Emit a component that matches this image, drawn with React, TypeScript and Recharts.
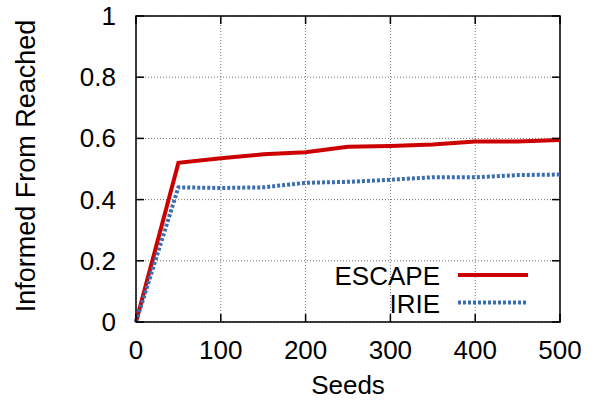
import React from 'react';
import { LineChart, Line, XAxis, YAxis, CartesianGrid, Label, ReferenceArea } from 'recharts';

const seeds = [0, 50, 100, 150, 200, 250, 300, 350, 400, 450, 500];
const escape = [0, 0.52, 0.535, 0.548, 0.555, 0.573, 0.575, 0.58, 0.59, 0.59, 0.595];
const irie = [0, 0.44, 0.438, 0.44, 0.455, 0.458, 0.465, 0.473, 0.473, 0.48, 0.482];
const xTicks = [0, 100, 200, 300, 400, 500];
const yTicks = [0, 0.2, 0.4, 0.6, 0.8, 1];
const seriesNames = ['ESCAPE', 'IRIE'];

const data = seeds.map((s, i) => ({ seeds: s, escape: escape[i], irie: irie[i] }));

const W = 595;
const H = 403;
const PLOT_LEFT = 136;
const PLOT_RIGHT = 560;
const PLOT_TOP = 16;
const PLOT_BOTTOM = 322;
const FONT = 'Liberation Sans, Arial, sans-serif';
const RED = '#cc0000';
const BLUE = '#3a6eaf';

const XTick = (props: any) => {
  const { x, y, payload } = props;
  return (
    <g>
      <line x1={x} x2={x} y1={PLOT_BOTTOM} y2={PLOT_BOTTOM - 8} stroke="#000" strokeWidth={1.5} />
      <line x1={x} x2={x} y1={PLOT_TOP} y2={PLOT_TOP + 8} stroke="#000" strokeWidth={1.5} />
      <text x={x} y={y + 35} textAnchor="middle" fontSize={26} fontFamily={FONT} fill="#000">
        {payload.value}
      </text>
    </g>
  );
};

const YTick = (props: any) => {
  const { x, y, payload } = props;
  return (
    <g>
      <line x1={PLOT_LEFT} x2={PLOT_LEFT + 8} y1={y} y2={y} stroke="#000" strokeWidth={1.5} />
      <line x1={PLOT_RIGHT} x2={PLOT_RIGHT - 8} y1={y} y2={y} stroke="#000" strokeWidth={1.5} />
      <text x={x - 18} y={y + 9} textAnchor="end" fontSize={26} fontFamily={FONT} fill="#000">
        {payload.value}
      </text>
    </g>
  );
};

const legendItems = [
  { name: seriesNames[0], color: RED, width: 4, dash: undefined as string | undefined },
  { name: seriesNames[1], color: BLUE, width: 4, dash: '3 2' },
];

export default function App() {
  return (
    <div style={{ position: 'absolute', left: 0, top: 0, width: W, height: H, background: '#fff' }}>
      <LineChart width={W} height={H} data={data} margin={{ top: PLOT_TOP, right: W - PLOT_RIGHT, left: 0, bottom: 0 }}>
        <CartesianGrid stroke="#777" strokeDasharray="1 2" strokeWidth={1} />
        <XAxis
          dataKey="seeds"
          type="number"
          domain={[0, 500]}
          ticks={xTicks}
          height={H - PLOT_BOTTOM}
          tickLine={false}
          axisLine={false}
          tickSize={0}
          tick={<XTick />}
          interval={0}
        >
          <Label
            content={({ viewBox }: any) => (
              <text x={viewBox.x + viewBox.width / 2} y={viewBox.y + viewBox.height - 9} textAnchor="middle" fontSize={26} fontFamily={FONT} fill="#000">
                Seeds
              </text>
            )}
          />
        </XAxis>
        <YAxis
          type="number"
          domain={[0, 1]}
          ticks={yTicks}
          width={PLOT_LEFT}
          tickLine={false}
          axisLine={false}
          tickSize={0}
          tick={<YTick />}
          interval={0}
        >
          <Label
            content={({ viewBox }: any) => {
              const cx = viewBox.x + 35;
              const cy = 166;
              return (
                <text x={cx} y={cy} transform={`rotate(-90 ${cx} ${cy})`} textAnchor="middle" fontSize={27} fontFamily={FONT} fill="#000">
                  Informed From Reached
                </text>
              );
            }}
          />
        </YAxis>
        <ReferenceArea x1={0} x2={500} y1={0} y2={1} fill="none" stroke="#000" strokeWidth={1.5} ifOverflow="visible" />
        <Line name={seriesNames[0]} dataKey="escape" stroke={RED} strokeWidth={4} dot={false} isAnimationActive={false} />
        <Line name={seriesNames[1]} dataKey="irie" stroke={BLUE} strokeWidth={4} strokeDasharray="3 2" dot={false} isAnimationActive={false} />
      </LineChart>
      <svg width={W} height={H} style={{ position: 'absolute', left: 0, top: 0, pointerEvents: 'none' }}>
        {legendItems.map((item, i) => {
          const mid = 275 + i * 27.5;
          return (
            <g key={item.name}>
              <text x={440} y={mid + 10} textAnchor="end" fontSize={26} fontFamily={FONT} fill="#000">
                {item.name}
              </text>
              <line x1={458} x2={528} y1={mid} y2={mid} stroke={item.color} strokeWidth={item.width} strokeDasharray={item.dash} />
            </g>
          );
        })}
      </svg>
    </div>
  );
}
